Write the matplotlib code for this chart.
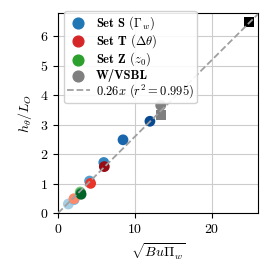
import os
import numpy as np
import matplotlib
matplotlib.use("Agg")
from matplotlib import pyplot as plt
from matplotlib import font_manager as fm

plt.rcParams['font.family'] = 'serif'
plt.rcParams['font.serif'] = ['cmr10', 'DejaVu Serif']
plt.rcParams['mathtext.fontset'] = 'cm'
plt.rcParams['axes.formatter.use_mathtext'] = True
plt.rcParams['font.size'] = 10

# Set S (Gamma_w)
s_x = [1.34, 2.1, 4.1, 5.95, 8.45, 11.95]
s_y = [0.31, 0.46, 1.09, 1.72, 2.49, 3.12]
# Set T (delta theta)
t_x = [2.08, 4.24, 6.02]
t_y = [0.49, 1.01, 1.58]
# Set Z (z0)
z_x = [2.88, 2.95, 3.0]
z_y = [0.72, 0.68, 0.64]
# W / VSBL
w_x = [13.35]
w_y = [3.66]
vsbl_x = [13.4, 24.8]
vsbl_y = [3.32, 6.5]
vsbl_c = ['#7f7f7f', 'black']

slope = 0.26

fig = plt.figure(figsize=(2.75, 2.75), dpi=100)
ax = fig.add_axes([0.211, 0.225, 0.727, 0.728])

ax.grid(True, color='#cccccc', lw=0.8, zorder=0)
ax.set_axisbelow(True)

xx = np.array([0, 26])

s_cols = plt.cm.Blues(np.linspace(0.35, 0.9, len(s_x)))
t_cols = plt.cm.Reds(np.linspace(0.4, 0.9, len(t_x)))
z_cols = plt.cm.Greens(np.linspace(0.45, 0.9, len(z_x)))

ax.scatter(s_x, s_y, c=s_cols, s=60, zorder=3, edgecolors='none')
ax.scatter(t_x, t_y, c=t_cols, s=60, zorder=3, edgecolors='none')
ax.scatter(z_x, z_y, c=z_cols, s=60, zorder=3, edgecolors='none')
ax.scatter(w_x, w_y, c='#7f7f7f', s=60, zorder=3, edgecolors='none')
ax.scatter(vsbl_x, vsbl_y, c=vsbl_c, marker='s', s=50, zorder=3, edgecolors='none')
ax.plot(xx, slope * xx, ls='--', color='#a0a0a0', lw=1.3, zorder=4)

# legend handles
ax.scatter([], [], c='#1f77b4', s=60, label=r'Set S $(\Gamma_w)$')
ax.scatter([], [], c='#d62728', s=60, label=r'Set T $(\Delta\theta)$')
ax.scatter([], [], c='#2ca02c', s=60, label=r'Set Z $(z_0)$')
ax.scatter([], [], c='#7f7f7f', s=60, label='W/VSBL')
ax.plot([], [], ls='--', color='#a0a0a0', lw=1.3, label=r'$0.26x\ (r^2=0.995)$')

bold = fm.FontProperties(fname=os.path.join(matplotlib.get_data_path(), 'fonts', 'ttf', 'cmb10.ttf'), size=9)
leg = ax.legend(loc='upper left', bbox_to_anchor=(0.005, 1.035), prop=bold,
                handlelength=1.8, borderpad=0.25, labelspacing=0.04,
                handletextpad=0.5, borderaxespad=0.4, framealpha=0.9)
leg.set_zorder(10)

ax.set_xlim(0, 26)
ax.set_ylim(0, 6.8)
ax.set_xticks([0, 10, 20])
ax.set_yticks([0, 1, 2, 3, 4, 5, 6])
ax.set_xlabel(r'$\sqrt{Bu\Pi_w}$')
ax.set_ylabel(r'$h_\theta/L_O$')

fig.savefig('out.png', dpi=100)
